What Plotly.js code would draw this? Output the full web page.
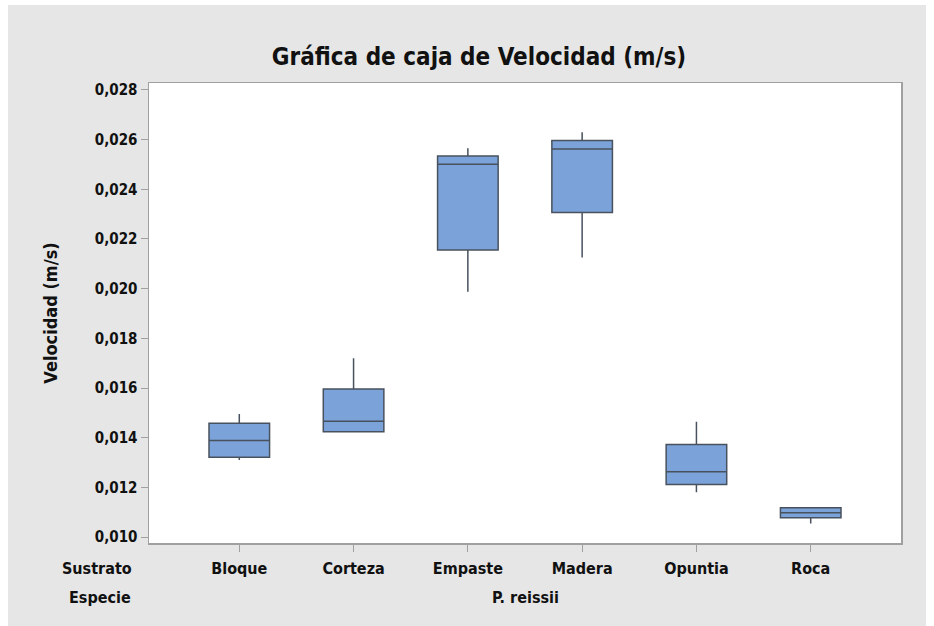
<!DOCTYPE html>
<html>
<head>
<meta charset="utf-8">
<script src="https://cdn.plot.ly/plotly-3.0.1.min.js"></script>
<style>
  html, body { margin: 0; padding: 0; background: #ffffff; width: 934px; height: 626px; overflow: hidden; }
  #chart { position: absolute; left: 8px; top: 5px; width: 918px; height: 621px; }
</style>
</head>
<body>
<div id="chart"></div>
<script>
// Data
const sustrato = ["Bloque", "Corteza", "Empaste", "Madera", "Opuntia", "Roca"];
const lowerWhisker = [0.01310, 0.01424, 0.01988, 0.02125, 0.01180, 0.01055];
const q1Values     = [0.01321, 0.01424, 0.02156, 0.02307, 0.01212, 0.01078];
const medianValues = [0.01389, 0.01466, 0.02501, 0.02562, 0.01263, 0.01098];
const q3Values     = [0.01458, 0.01596, 0.02534, 0.02596, 0.01373, 0.01118];
const upperWhisker = [0.01495, 0.01720, 0.02565, 0.02630, 0.01464, 0.01118];
const yTickValues  = [0.010, 0.012, 0.014, 0.016, 0.018, 0.020, 0.022, 0.024, 0.026, 0.028];

const FONT = "DejaVu Sans Condensed, Liberation Sans Narrow, sans-serif";

const trace = {
  type: "box",
  x: sustrato,
  q1: q1Values,
  median: medianValues,
  q3: q3Values,
  lowerfence: lowerWhisker,
  upperfence: upperWhisker,
  width: 0.53,
  whiskerwidth: 0,
  fillcolor: "#7ba3d9",
  line: { color: "#48525e", width: 1.5 },
  boxpoints: false,
  hoverinfo: "skip",
  showlegend: false
};

const layout = {
  width: 918,
  height: 621,
  paper_bgcolor: "#e6e6e6",
  plot_bgcolor: "#ffffff",
  separators: ",.",
  margin: { l: 141, r: 25, t: 78, b: 83 },
  font: { family: FONT, color: "#111111", size: 15 },
  title: {
    text: "<b>Gráfica de caja de Velocidad (m/s)</b>",
    font: { family: FONT, size: 24, color: "#111111" },
    x: (479 - 8) / 918, xref: "container", xanchor: "center",
    y: 1 - 52 / 621, yref: "container", yanchor: "middle"
  },
  xaxis: {
    type: "category",
    range: [-0.79, 5.79],
    showgrid: false,
    zeroline: false,
    showline: true,
    mirror: true,
    linecolor: "#a0a0a0",
    linewidth: 1.5,
    ticks: "outside",
    ticklen: 7,
    tickwidth: 1,
    tickcolor: "#a0a0a0",
    tickfont: { family: FONT, size: 16, color: "#111111", weight: "bold" },
    ticklabelstandoff: 3
  },
  yaxis: {
    range: [0.00976, 0.02828],
    tickvals: yTickValues,
    tickformat: ".3f",
    showgrid: false,
    zeroline: false,
    showline: true,
    mirror: true,
    linecolor: "#a0a0a0",
    linewidth: 1.5,
    ticks: "outside",
    ticklen: 7,
    tickwidth: 1,
    tickcolor: "#a0a0a0",
    tickfont: { family: FONT, size: 15, color: "#111111", weight: "bold" },
    title: {
      text: "<b>Velocidad (m/s)</b>",
      font: { family: FONT, size: 18, color: "#111111" },
      standoff: 32
    }
  },
  annotations: [
    { text: "<b>Sustrato</b>", xref: "paper", yref: "paper", x: (89 - 141) / 752, y: 0, yshift: -25,
      xanchor: "center", yanchor: "middle", showarrow: false, font: { family: FONT, size: 16, color: "#111111" } },
    { text: "<b>Especie</b>", xref: "paper", yref: "paper", x: (92 - 141) / 752, y: 0, yshift: -54,
      xanchor: "center", yanchor: "middle", showarrow: false, font: { family: FONT, size: 16, color: "#111111" } },
    { text: "<b>P. reissii</b>", xref: "paper", yref: "paper", x: 0.5, y: 0, yshift: -54,
      xanchor: "center", yanchor: "middle", showarrow: false, font: { family: FONT, size: 16, color: "#111111" } }
  ]
};

Plotly.newPlot("chart", [trace], layout, { displayModeBar: false, staticPlot: true });
</script>
</body>
</html>
